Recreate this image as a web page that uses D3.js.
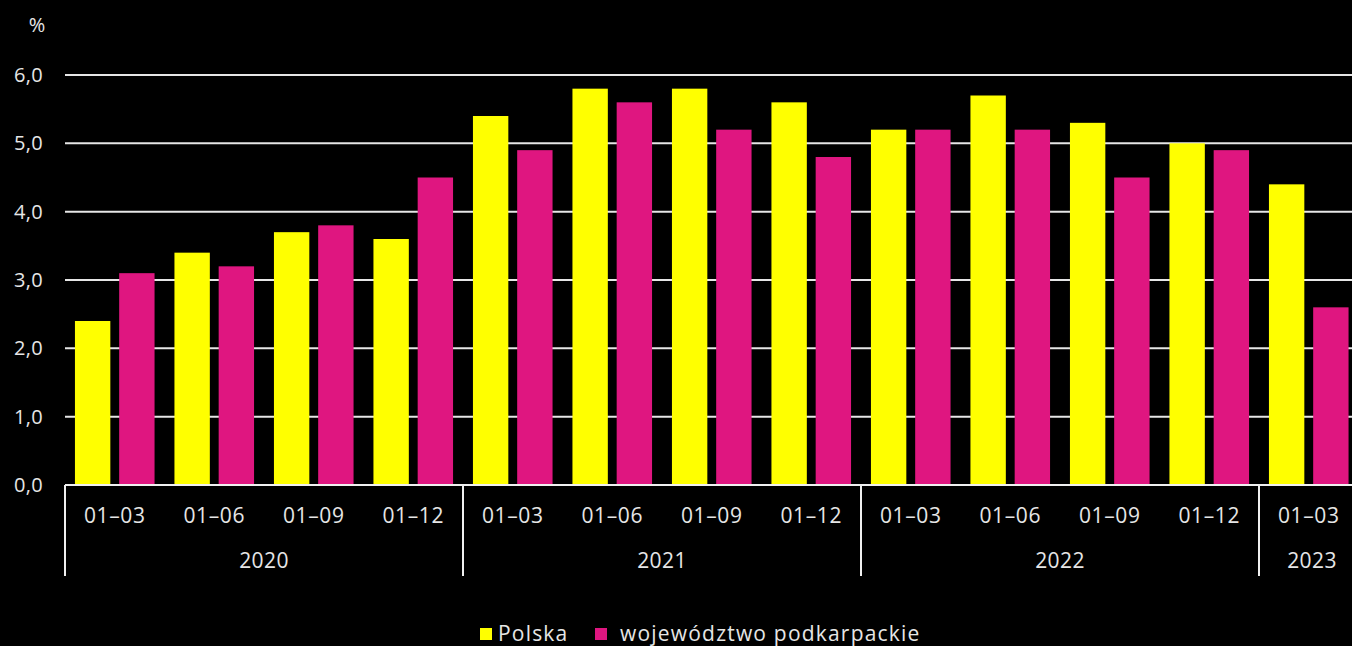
<!DOCTYPE html>
<html><head><meta charset="utf-8">
<script src="https://cdn.jsdelivr.net/npm/d3@7"></script>
<style>html,body{margin:0;padding:0;background:#000;overflow:hidden}svg{display:block}</style>
</head><body>
<svg id="c" width="1352" height="646"></svg>
<script>
const periods = ["01–03","01–06","01–09","01–12","01–03","01–06","01–09","01–12","01–03","01–06","01–09","01–12","01–03"];
const years = ["2020","2021","2022","2023"];
const yearOfPeriod = [0,0,0,0,1,1,1,1,2,2,2,2,3];
const polska = [2.4,3.4,3.7,3.6,5.4,5.8,5.8,5.6,5.2,5.7,5.3,5.0,4.4];
const podkarpackie = [3.1,3.2,3.8,4.5,4.9,5.6,5.2,4.8,5.2,5.2,4.5,4.9,2.6];
const yTicks = [0,1,2,3,4,5,6];
const seriesNames = ["Polska","województwo podkarpackie"];
const colors = ["#ffff00","#df1680"];

const svg = d3.select("#c");
const font = "'Open Sans', 'Noto Sans', sans-serif";
const txt = "#e6e6e6";
const left = 65, step = 99.5;
const x = d3.scaleBand().domain(d3.range(periods.length)).range([left, left + step*periods.length]).paddingInner(0.2).paddingOuter(0.1);
const y = d3.scaleLinear().domain([0,6]).range([485,75]);
const inner = d3.scaleBand().domain([0,1]).range([0, x.bandwidth()]).paddingInner(0.2);

// grid
svg.append("g").selectAll("line").data(yTicks.filter(d=>d>0)).join("line")
  .attr("x1",left).attr("x2",1352).attr("y1",d=>y(d)).attr("y2",d=>y(d))
  .attr("stroke","#e6e6e6").attr("stroke-width",2);

// y labels
svg.append("g").selectAll("text").data(yTicks).join("text")
  .attr("x",43).attr("y",d=>y(d)).attr("dy","0.35em").attr("text-anchor","end")
  .attr("fill",txt).attr("font-family",font).attr("font-size",20).attr("letter-spacing",0.3)
  .text(d=>d3.format(".1f")(d).replace(".",","));
svg.append("text").attr("x",37).attr("y",25).attr("dy","0.35em").attr("text-anchor","middle")
  .attr("fill",txt).attr("font-family",font).attr("font-size",20).text("%");

// bars
const data = [polska, podkarpackie];
data.forEach((vals,si)=>{
  svg.append("g").selectAll("rect").data(vals).join("rect")
    .attr("x",(d,i)=>x(i)+inner(si)).attr("width",inner.bandwidth())
    .attr("y",d=>y(d)).attr("height",d=>y(0)-y(d))
    .attr("fill",colors[si]);
});

// axis lines
svg.append("line").attr("x1",left).attr("x2",1352).attr("y1",485).attr("y2",485).attr("stroke","#f0f0f0").attr("stroke-width",2);
const boundaries = [0];
for(let i=1;i<periods.length;i++) if(yearOfPeriod[i]!==yearOfPeriod[i-1]) boundaries.push(i);
svg.append("g").selectAll("line").data(boundaries).join("line")
  .attr("x1",i=>left+step*i).attr("x2",i=>left+step*i).attr("y1",485).attr("y2",576)
  .attr("stroke","#f0f0f0").attr("stroke-width",2);

// period labels
svg.append("g").selectAll("text").data(periods).join("text")
  .attr("x",(d,i)=>left+step*(i+0.5)).attr("y",516).attr("dy","0.35em").attr("text-anchor","middle")
  .attr("fill",txt).attr("font-family",font).attr("font-size",21).attr("letter-spacing",0.6).text(d=>d);
// year labels
svg.append("g").selectAll("text").data(years).join("text")
  .attr("x",(d,yi)=>{const idx=d3.range(periods.length).filter(i=>yearOfPeriod[i]===yi);const a=left+step*idx[0];const b=left+step*(idx[idx.length-1]+1);return yi===years.length-1? 1312 : (a+b)/2;})
  .attr("y",561).attr("dy","0.35em").attr("text-anchor","middle")
  .attr("fill",txt).attr("font-family",font).attr("font-size",21).attr("letter-spacing",0.4).text(d=>d);

// legend
const lg = svg.append("g");
const lx = [480, 595], tx = [498, 620];
seriesNames.forEach((n,i)=>{
  lg.append("rect").attr("x",lx[i]).attr("y",628).attr("width",12).attr("height",12).attr("fill",colors[i]);
  lg.append("text").attr("x",tx[i]).attr("y",641).attr("fill",txt).attr("font-family",font).attr("font-size",21).attr("letter-spacing",1.2).text(n);
});
</script>
</body></html>
